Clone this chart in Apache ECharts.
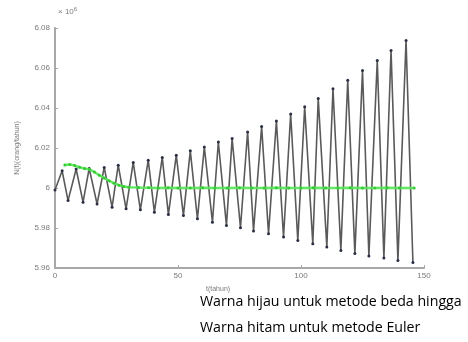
<!DOCTYPE html>
<html>
<head>
<meta charset="utf-8">
<script src="https://cdn.jsdelivr.net/npm/echarts@6/dist/echarts.min.js"></script>
<style>html,body{margin:0;padding:0;background:#fff;}#c{width:468px;height:342px;}</style>
</head>
<body>
<div id="c"></div>
<script>
// ---- data (values in units of 10^6) ----
var xTickLabels = ['0', '50', '100', '150'];
var yTickLabels = ['5.96', '5.98', '6', '6.02', '6.04', '6.06', '6.08'];

var eulerStartT = [0];
var eulerStartN = [5.999];
var eulerPeakT = [2.9, 8.6, 13.9, 20.0, 25.7, 31.8, 37.9, 43.6, 49.3, 55.0, 60.7, 66.4, 72.0, 78.3, 84.0, 90.0, 95.8, 101.5, 107.0, 113.0, 119.0, 125.0, 131.0, 136.6, 142.7];
var eulerPeakN = [6.0086, 6.0095, 6.0098, 6.0103, 6.0114, 6.0128, 6.0139, 6.0153, 6.0164, 6.0186, 6.0205, 6.0230, 6.0247, 6.0280, 6.0307, 6.0335, 6.0370, 6.0406, 6.0448, 6.0496, 6.0539, 6.0587, 6.0637, 6.0688, 6.0738];
var eulerTroughT = [5.3, 11.4, 17.1, 23.2, 28.9, 34.7, 40.4, 46.1, 52.2, 57.9, 64.0, 69.7, 75.4, 80.7, 86.8, 92.9, 98.7, 104.8, 110.5, 116.2, 121.9, 127.6, 133.7, 139.4, 145.5];
var eulerTroughN = [5.9937, 5.9929, 5.9920, 5.9904, 5.9896, 5.9891, 5.9879, 5.9867, 5.9862, 5.9846, 5.9829, 5.9812, 5.9801, 5.9785, 5.9771, 5.9755, 5.9738, 5.9721, 5.9705, 5.9688, 5.9672, 5.9660, 5.9650, 5.9638, 5.9627];

var bedaT = [4, 6, 8, 10, 12, 14, 16, 18, 20, 22, 24, 26, 28, 30, 34, 38, 42, 46, 50, 55, 60, 65, 70, 75, 80, 85, 90, 95, 100, 105, 110, 115, 120, 125, 130, 135, 140, 146];
var bedaN = [6.0115, 6.0118, 6.0112, 6.0104, 6.0097, 6.0093, 6.0080, 6.0064, 6.0050, 6.0036, 6.0024, 6.0014, 6.0008, 6.0004, 6.0002, 6.0001, 6.0000, 6.0001, 6.0000, 6.0000, 6.0001, 6.0000, 6.0000, 6.0001, 6.0000, 6.0000, 6.0001, 6.0000, 6.0000, 6.0001, 6.0000, 6.0000, 6.0001, 6.0000, 6.0000, 6.0001, 6.0000, 6.0000];

var yAxisName = 'N(t)(orang/tahun)';
var xAxisName = 't(tahun)';
var note1 = 'Warna hijau untuk metode beda hingga';
var note2 = 'Warna hitam untuk metode Euler';

// ---- build ----
var eulerPts = [];
eulerStartT.forEach(function (t, i) { eulerPts.push([t, eulerStartN[i]]); });
eulerPeakT.forEach(function (t, i) { eulerPts.push([t, eulerPeakN[i]]); });
eulerTroughT.forEach(function (t, i) { eulerPts.push([t, eulerTroughN[i]]); });
eulerPts.sort(function (a, b) { return a[0] - b[0]; });
var bedaPts = bedaT.map(function (t, i) { return [t, bedaN[i]]; });

var chart = echarts.init(document.getElementById('c'), null, { renderer: 'canvas' });
var axisColor = '#a8a8a8';
var labelColor = '#7a7a7a';
chart.setOption({
  animation: false,
  backgroundColor: '#fff',
  grid: { left: 55, top: 28, right: 44, bottom: 74, containLabel: false },
  xAxis: {
    type: 'value', min: 0, max: 150, interval: 50,
    axisLine: { show: true, onZero: false, lineStyle: { color: axisColor, width: 2 } },
    axisTick: { show: true, inside: true, length: 3, lineStyle: { color: axisColor } },
    splitLine: { show: false },
    axisLabel: { color: labelColor, fontSize: 8, fontFamily: 'Liberation Sans', margin: 4,
      formatter: function (v) { return xTickLabels[Math.round(v / 50)]; } }
  },
  yAxis: {
    type: 'value', min: 5.96, max: 6.08, interval: 0.02,
    axisLine: { show: true, lineStyle: { color: axisColor, width: 2 } },
    axisTick: { show: true, inside: true, length: 3, lineStyle: { color: axisColor } },
    splitLine: { show: false },
    axisLabel: { color: labelColor, fontSize: 8, fontFamily: 'Liberation Sans', margin: 5,
      formatter: function (v) { return yTickLabels[Math.round((v - 5.96) / 0.02)]; } },
    name: yAxisName, nameLocation: 'middle', nameGap: 34, nameRotate: 90,
    nameTextStyle: { color: labelColor, fontSize: 7, fontFamily: 'Liberation Sans' }
  },
  series: [
    {
      type: 'line', data: eulerPts, smooth: false,
      symbol: 'circle', symbolSize: 3, showAllSymbol: true,
      itemStyle: { color: '#2a2f45' },
      lineStyle: { color: '#5a5a5a', width: 1.6 },
      z: 2
    },
    {
      type: 'line', data: bedaPts, smooth: false,
      symbol: 'circle', symbolSize: 3, showAllSymbol: true,
      itemStyle: { color: '#33cc33' },
      lineStyle: { color: '#55e455', width: 2.5, opacity: 0.9 },
      z: 3
    }
  ],
  graphic: [
    { type: 'text', left: 58, top: 6, style: { text: '× 10{s|6}', rich: { s: { fontSize: 6, verticalAlign: 'top', padding: [0, 0, 5, 0], fill: labelColor } }, fill: labelColor, fontSize: 8, fontFamily: 'Liberation Sans' } },
    { type: 'text', left: 206, top: 286, style: { text: xAxisName, fill: labelColor, fontSize: 7, fontFamily: 'Liberation Sans' } },
    { type: 'text', left: 200, top: 295, style: { text: note1, fill: '#000', fontSize: 14.2, fontFamily: 'Open Sans' } },
    { type: 'text', left: 200, top: 321, style: { text: note2, fill: '#000', fontSize: 14.2, fontFamily: 'Open Sans' } }
  ]
});
</script>
</body>
</html>
